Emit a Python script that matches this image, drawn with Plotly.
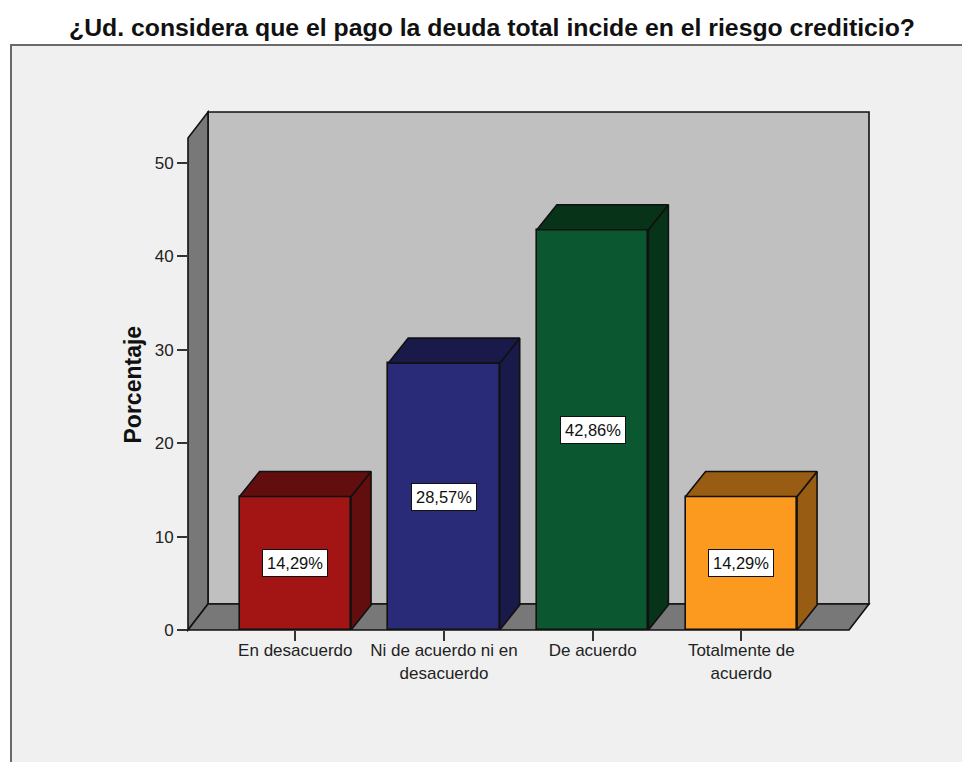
import plotly.graph_objects as go

# Data
categories = ["En desacuerdo", "Ni de acuerdo ni en<br>desacuerdo", "De acuerdo", "Totalmente de<br>acuerdo"]
values = [14.29, 28.57, 42.86, 14.29]
labels = ["14,29%", "28,57%", "42,86%", "14,29%"]
front_colors = ["#A31515", "#292A78", "#0B5830", "#FC991F"]
shade_colors = ["#620E0E", "#191A4A", "#073319", "#985C12"]
y_ticks = [0, 10, 20, 30, 40, 50]

TITLE = "¿Ud. considera que el pago la deuda total incide en el riesgo crediticio?"
Y_TITLE = "Porcentaje"
W, H = 962, 762
L, R, T, B = 188, 869, 112, 630           # plot area in page pixels
X_UNIT, Y_UNIT = 148.67, 9.34             # pixels per category / per percent
X0 = 295.3                                # pixel position of the first category
BAR_W = 111.5 / X_UNIT
BOX_DX, BOX_DY = 20 / X_UNIT, 26 / Y_UNIT  # depth of the chart box
BAR_DX, BAR_DY = 20 / X_UNIT, 25 / Y_UNIT  # depth of the bars
x_rng = [(L - X0) / X_UNIT, (R - X0) / X_UNIT]
y_rng = [0, (B - T) / Y_UNIT]
INK = "#111111"

px = lambda v: (v - L) / (R - L)
py = lambda v: (B - v) / (B - T)
# paper-referenced shapes are not clipped at the plot edge, so their outlines stay whole
fx = lambda x: (x - x_rng[0]) / (x_rng[1] - x_rng[0])
fy = lambda y: (y - y_rng[0]) / (y_rng[1] - y_rng[0])


def poly(points, fill, width=1.6):
    path = "M" + " L".join(f"{fx(x)},{fy(y)}" for x, y in points) + " Z"
    return dict(type="path", path=path, xref="paper", yref="paper", fillcolor=fill, layer="below",
                line=dict(color=INK, width=width))


x_a, x_b = x_rng[0], x_rng[1] - BOX_DX
shapes = [
    # page frame
    dict(type="path", xref="paper", yref="paper", layer="below", fillcolor="#F0F0F0",
         line=dict(color="#6A6A6A", width=2),
         path=f"M{px(11)},{py(770)} L{px(11)},{py(45)} L{px(975)},{py(45)} L{px(975)},{py(770)} Z"),
    # back wall, left wall, floor
    poly([(x_a + BOX_DX, BOX_DY), (x_b + BOX_DX, BOX_DY), (x_b + BOX_DX, y_rng[1]), (x_a + BOX_DX, y_rng[1])], "#C0C0C0"),
    poly([(x_a, 0), (x_a + BOX_DX, BOX_DY), (x_a + BOX_DX, y_rng[1]), (x_a, y_rng[1] - BOX_DY)], "#787878"),
    poly([(x_a, 0), (x_b, 0), (x_b + BOX_DX, BOX_DY), (x_a + BOX_DX, BOX_DY)], "#787878"),
]

fig = go.Figure()
xs = list(range(len(values)))
fig.add_trace(go.Bar(x=xs, y=values, width=BAR_W, hoverinfo="skip", cliponaxis=False,
                     marker=dict(color=front_colors, line=dict(color=INK, width=1.6))))

for x, v, c in zip(xs, values, shade_colors):
    a, b = x - BAR_W / 2, x + BAR_W / 2
    # right side face
    fig.add_trace(go.Scatter(x=[b, b + BAR_DX, b + BAR_DX, b, b], y=[0, BAR_DY, v + BAR_DY, v, 0],
                             mode="lines", fill="toself", fillcolor=c, hoverinfo="skip", cliponaxis=False,
                             line=dict(color=INK, width=1.6)))
    # top face
    fig.add_trace(go.Scatter(x=[a, b, b + BAR_DX, a + BAR_DX, a], y=[v, v, v + BAR_DY, v + BAR_DY, v],
                             mode="lines", fill="toself", fillcolor=c, hoverinfo="skip", cliponaxis=False,
                             line=dict(color=INK, width=1.6)))

annotations = [
    dict(x=x, y=v / 2, text=t, showarrow=False, bgcolor="white", bordercolor=INK, borderwidth=1,
         borderpad=4, font=dict(family="Liberation Sans", size=16.5, color="#111111"))
    for x, v, t in zip(xs, values, labels)
]
annotations.append(dict(xref="paper", yref="paper", x=px(132), y=py(384.5), textangle=-90,
                        text="<b>" + Y_TITLE + "</b>", showarrow=False, xanchor="center", yanchor="middle",
                        font=dict(family="Liberation Sans", size=23, color="#111111")))

fig.update_layout(
    width=W, height=H, autosize=False, showlegend=False, bargap=0,
    paper_bgcolor="white", plot_bgcolor="rgba(0,0,0,0)",
    margin=dict(l=L, r=W - R, t=T, b=H - B, pad=0),
    shapes=shapes, annotations=annotations,
    font=dict(family="Liberation Sans", color="#222222"),
    title=dict(text="<b>" + TITLE + "</b>", x=492 / W, xanchor="center", y=1 - 27.5 / H, yanchor="middle",
               font=dict(family="Liberation Sans", size=24.8, color="#111111")),
    xaxis=dict(range=x_rng, tickmode="array", tickvals=xs, ticktext=categories, ticks="outside",
               ticklen=10, tickwidth=1.5, tickcolor="#333333", showgrid=False, zeroline=False,
               showline=False, tickfont=dict(size=17, color="#222222"), tickangle=0,
               ticklabelstandoff=-5),
    yaxis=dict(range=y_rng, tickmode="array", tickvals=y_ticks, ticks="outside", ticklen=10,
               tickwidth=1.5, tickcolor="#333333", showgrid=False, zeroline=False, showline=False,
               tickfont=dict(size=17, color="#222222")),
)

fig.write_html("out.html", config={"displayModeBar": False},
               post_script="document.body.style.margin='0';document.documentElement.style.overflow='hidden';")
